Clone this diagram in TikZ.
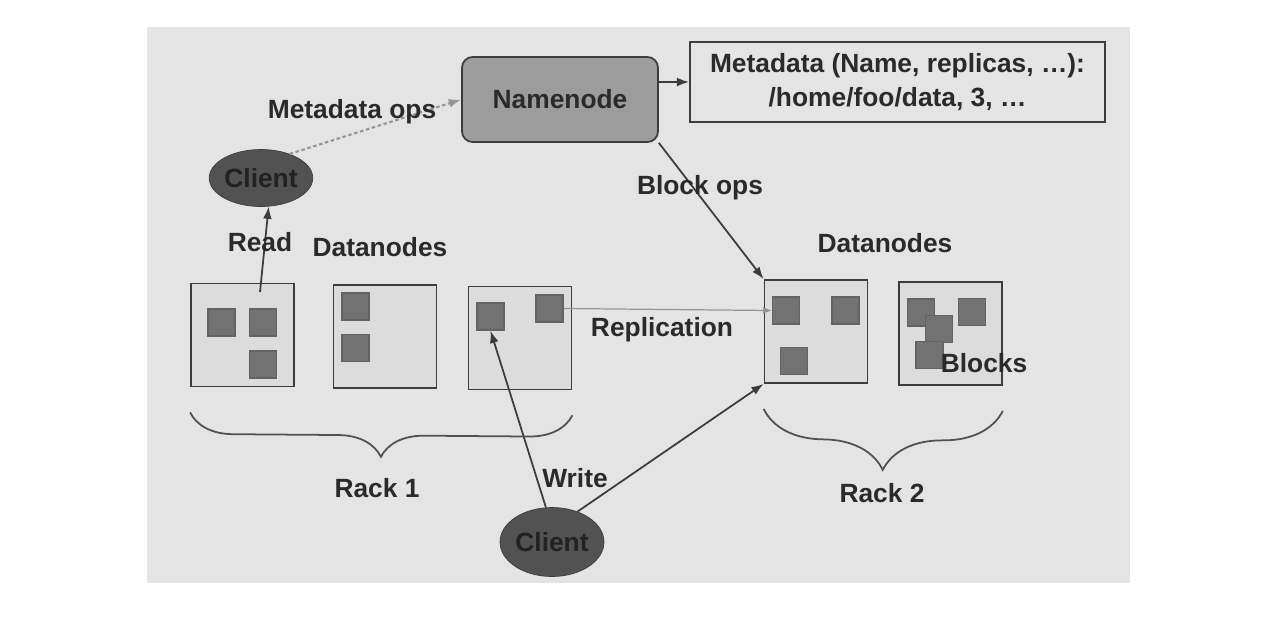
\documentclass[tikz,border=0pt]{standalone}
\usepackage{fontspec}
\setmainfont{Liberation Sans}
\usepackage{tikz}
\usetikzlibrary{arrows.meta,positioning,shapes.geometric,decorations.pathreplacing}
\definecolor{HDPanel}{HTML}{E4E4E4}
\definecolor{HDInk}{HTML}{2A2A2A}
\definecolor{HDLine}{HTML}{3C3C3C}
\definecolor{HDBox}{HTML}{DCDCDC}
\definecolor{HDBlock}{HTML}{727272}
\definecolor{HDName}{HTML}{9C9C9C}
\definecolor{HDClient}{HTML}{525252}
\definecolor{HDMuted}{HTML}{959595}

\begin{document}
\begin{tikzpicture}[
    x=0.02cm, y=-0.02cm,
    every node/.style={font=\fontsize{15}{19}\selectfont\bfseries, text=HDInk},
    namebox/.style={
      draw=HDLine, fill=HDName, rounded corners=6pt, line width=1pt,
      minimum width=3.92cm, minimum height=1.7cm
    },
    metabox/.style={
      draw=HDLine, line width=1pt, align=center,
      minimum width=8.3cm, minimum height=1.6cm
    },
    client/.style={
      ellipse, draw=HDLine, fill=HDClient, text=HDInk!80!black,
      minimum width=2.04cm, minimum height=1.14cm, inner sep=0pt
    },
    datanode/.style={
      draw=HDLine, fill=HDBox, line width=1pt,
      minimum width=2.06cm, minimum height=2.06cm, inner sep=0pt
    },
    block/.style={
      draw=HDLine!80, fill=HDBlock, line width=0.8pt,
      minimum width=0.54cm, minimum height=0.54cm, inner sep=0pt
    },
    arr/.style={-{Latex[length=7pt,width=5pt]}, line width=1pt, color=HDLine},
    dasharr/.style={-{Latex[length=7pt,width=5pt]}, line width=1.2pt,
      color=HDMuted, dash pattern=on 2pt off 1.5pt},
    reparr/.style={-{Latex[length=5pt,width=4pt]}, line width=0.7pt, color=HDMuted},
    rackbrace/.style={decorate, line width=1pt, color=HDLine!90}
  ]

  \useasboundingbox (0,0) rectangle (1288,616);
  \fill[HDPanel] (147,27) rectangle (1130,583);

  \node[namebox] (namenode) at (560,99.5) {Namenode};
  \node[metabox] (meta) at (897.5,82)
    {Metadata (Name, replicas, \dots):\\/home/foo/data, 3, \dots};

  \node[client] (clientR) at (261,178) {Client};
  \node[client, minimum width=2.08cm, minimum height=1.38cm] (clientW) at (552,542) {Client};

  % rack 1
  \node[datanode] (dnA) at (242.5,335) {};
  \node[datanode] (dnB) at (385,336.5) {};
  \node[datanode] (dnC) at (520,338) {};
  % rack 2
  \node[datanode] (dnD) at (816,331.5) {};
  \node[datanode] (dnE) at (950.5,333.5) {};

  \node[block] (bA1) at (221.5,322.5) {};
  \node[block] (bA2) at (263,322.5) {};
  \node[block] (bA3) at (263,364.5) {};
  \node[block] (bB1) at (355.5,306.5) {};
  \node[block] (bB2) at (355.5,348) {};
  \node[block] (bC1) at (490.5,316.5) {};
  \node[block] (bC2) at (549.5,308.5) {};
  \node[block] (bD1) at (786,310.5) {};
  \node[block] (bD2) at (845.5,310.5) {};
  \node[block] (bD3) at (794,361) {};
  \node[block] (bE1) at (921,312.5) {};
  \node[block] (bE2) at (939,329) {};
  \node[block] (bE3) at (929.5,355) {};
  \node[block] (bE4) at (972,312) {};

  \coordinate (rd) at (260,292);

  \draw[dasharr] (clientR.40) -- (namenode.west);
  \draw[arr] (namenode.east |- meta.west) -- (meta.west);
  \draw[arr] (namenode.south east) -- (dnD.north west);
  \draw[arr] (rd) -- (clientR.-75);
  \draw[arr] (clientW.100) -- (bC1.south);
  \draw[arr] (clientW.50) -- (dnD.south west);
  \draw[reparr] (bC2.east) -- (bD1.west);

  \draw[rackbrace, decoration={brace, mirror, amplitude=0.86cm}]
    ([yshift=-0.5cm]dnA.south west) -- ([yshift=-0.5cm]dnC.south east);
  \draw[rackbrace, decoration={brace, mirror, amplitude=1.2cm}]
    ([yshift=-0.5cm]dnD.south west) -- ([yshift=-0.5cm]dnE.south east);

  \node (lblMeta) at (352,112) {Metadata ops};
  \node (lblRead) at (260,242) {Read};
  \node (lblDn1) at (380,247) {Datanodes};
  \node (lblBlk) at (700,188) {Block ops};
  \node (lblDn2) at (885,243) {Datanodes};
  \node (lblRep) at (662,330) {Replication};
  \node (lblWrite) at (575,478) {Write};
  \node (lblRack1) at (377,488) {Rack 1};
  \node (lblRack2) at (882,493) {Rack 2};
  \node (lblBlocks) at (984,363) {Blocks};

\end{tikzpicture}
\end{document}
